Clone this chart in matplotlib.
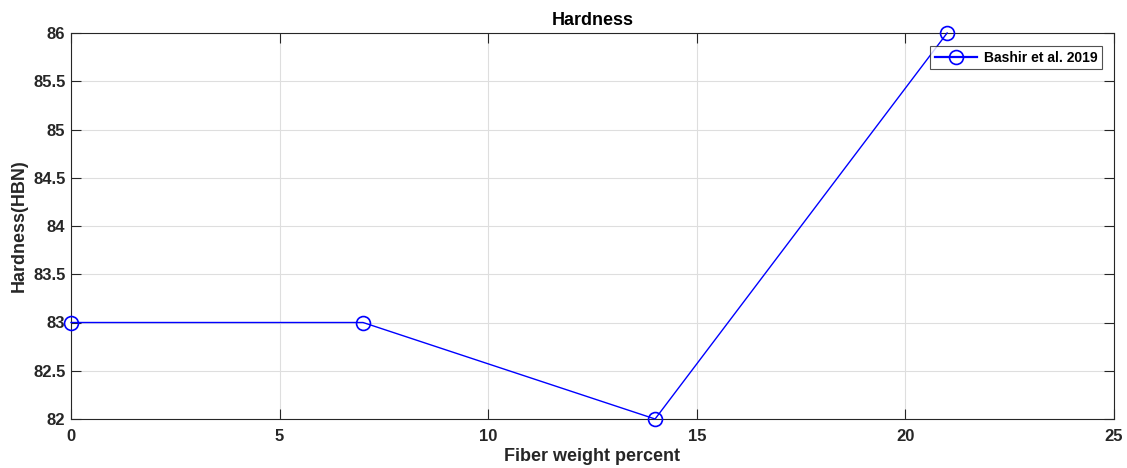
import matplotlib
matplotlib.use("Agg")
import matplotlib.pyplot as plt

fiber = [0, 7, 14, 21]
hardness = [83, 83, 82, 86]
xticks = [0, 5, 10, 15, 20, 25]
yticks = [82, 82.5, 83, 83.5, 84, 84.5, 85, 85.5, 86]
ytick_labels = ['82', '82.5', '83', '83.5', '84', '84.5', '85', '85.5', '86']

plt.rcParams['font.family'] = ['Liberation Sans', 'DejaVu Sans']
plt.rcParams['font.weight'] = 'bold'
txt = '#262626'

fig = plt.figure(figsize=(11.27, 4.68), dpi=100)
ax = fig.add_axes([71/1127, 1 - 419/468, (1114 - 71)/1127, (419 - 33)/468])

ax.plot(fiber, hardness, color='#0000ff', lw=1.0, marker='o', ms=10,
        mfc='none', mec='#0000ff', mew=1.2, label='Bashir et al. 2019',
        clip_on=False, zorder=5)

ax.set_xlim(0, 25)
ax.set_ylim(82, 86)
ax.set_xticks(xticks)
ax.set_yticks(yticks)
ax.set_yticklabels(ytick_labels)
ax.grid(True, color='#dedede', lw=0.8)
ax.set_axisbelow(True)
ax.tick_params(direction='in', top=True, right=True, length=7, width=0.8,
               colors='#262626', labelsize=12)
ax.tick_params(axis='x', pad=7)
ax.tick_params(axis='y', pad=4)
for lab in ax.get_xticklabels() + ax.get_yticklabels():
    lab.set_fontweight('bold')
    lab.set_color(txt)
for s in ax.spines.values():
    s.set_color('#262626')
    s.set_linewidth(0.8)

ax.set_xlabel('Fiber weight percent', fontsize=13, fontweight='bold', color=txt, labelpad=3)
ax.set_ylabel('Hardness(HBN)', fontsize=13, fontweight='bold', color=txt, labelpad=4)
ax.set_title('Hardness', fontsize=13, fontweight='bold', color='black', pad=6)

leg = ax.legend(loc='upper right', bbox_to_anchor=(0.9885, 0.967), fontsize=10,
                frameon=True, fancybox=False, borderpad=0.35, handlelength=3.0,
                handletextpad=0.5, borderaxespad=0)
leg.get_frame().set_edgecolor('#262626')
leg.get_frame().set_linewidth(0.8)
for h in leg.get_lines():
    h.set_linewidth(1.6)
for t in leg.get_texts():
    t.set_fontweight('bold')

fig.savefig('out.png', dpi=100)
